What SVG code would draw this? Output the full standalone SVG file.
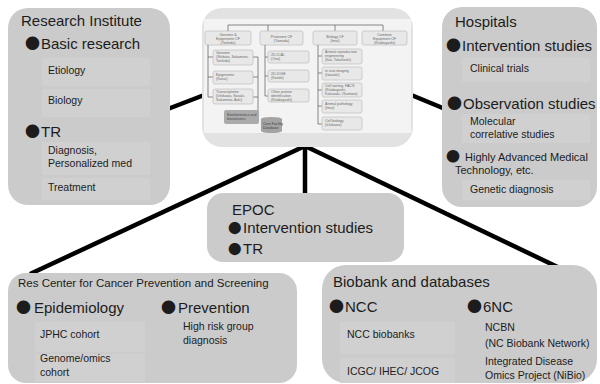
<svg xmlns="http://www.w3.org/2000/svg" width="600" height="384" viewBox="0 0 600 384">
<style>
.big{fill:#cbcbcb}
.sub{fill:#d0d0d0}
.t{font-family:"Liberation Sans",Arial,sans-serif;fill:#1c1c1c}
.h{font-size:15px}
.s{font-size:10.5px}
.b{font-family:"Noto Sans CJK JP","Noto Sans CJK SC",sans-serif}
.conn{stroke:#000;stroke-width:4.5;fill:none;stroke-linecap:butt}
.cf{fill:#e8e8e8;stroke:#b5b5b5;stroke-width:0.6}
.ct{font-family:"Liberation Sans",Arial,sans-serif;font-size:3.6px;fill:#6a6a6a}
.cl{stroke:#6a6a6a;stroke-width:0.8;fill:none}
</style>
<rect width="600" height="384" fill="#fff"/>
<g id="connectors">
<line class="conn" x1="160" y1="112" x2="212" y2="92"/>
<line class="conn" x1="404" y1="92" x2="450" y2="111"/>
<line class="conn" x1="305" y1="140" x2="305" y2="196"/>
<line class="conn" x1="305" y1="146" x2="30" y2="274"/>
<line class="conn" x1="305" y1="146" x2="568" y2="272"/>
</g>
<g id="core-facility">
<rect x="202" y="8" width="211" height="139" rx="20" fill="#e2e2e2"/>
<rect x="204" y="19" width="207" height="114" fill="#f3f3f3"/>
<path class="cl" d="M228 31V25H383V31M268 25V31M335 25V31"/>
<rect class="cf" x="205" y="31" width="46" height="14" rx="2"/>
<text class="ct" text-anchor="middle"><tspan x="228" y="35.5">Genome &amp;</tspan><tspan x="228" y="39.5">Epigenome CF</tspan><tspan x="228" y="43.5">(Yoshida)</tspan></text>
<rect class="cf" x="260" y="31" width="43" height="14" rx="2"/>
<text class="ct" text-anchor="middle"><tspan x="281.5" y="37.5">Proteome CF</tspan><tspan x="281.5" y="41.5">(Yamada)</tspan></text>
<rect class="cf" x="313" y="31" width="44" height="14" rx="2"/>
<text class="ct" text-anchor="middle"><tspan x="335" y="37.5">Biology CF</tspan><tspan x="335" y="41.5">(Imai)</tspan></text>
<rect class="cf" x="362" y="31" width="45" height="14" rx="2"/>
<text class="ct" text-anchor="middle"><tspan x="384.5" y="35.5">Common</tspan><tspan x="384.5" y="39.5">Equipment CF</tspan><tspan x="384.5" y="43.5">(Kitabayashi)</tspan></text>
<path class="cl" d="M208 45V97H213M208 57H213M208 77H213M253 57H258M253 77H258M253 97H258M258 57V112"/>
<rect class="cf" x="213" y="50" width="40" height="15" rx="2"/>
<text class="ct"><tspan x="216" y="54">Genome</tspan><tspan x="216" y="58">(Shibata, Sakamoto,</tspan><tspan x="216" y="62">Yoshida)</tspan></text>
<rect class="cf" x="213" y="71" width="40" height="13" rx="2"/>
<text class="ct"><tspan x="216" y="76">Epigenome</tspan><tspan x="216" y="80">(Kanai)</tspan></text>
<rect class="cf" x="213" y="89" width="40" height="15" rx="2"/>
<text class="ct"><tspan x="216" y="93">Transcriptome</tspan><tspan x="216" y="97">(Ichikawa, Sasaki,</tspan><tspan x="216" y="101">Sakamoto, Aoki)</tspan></text>
<rect x="224" y="110" width="35" height="14" rx="2" fill="#ababab"/>
<text class="ct" style="fill:#4a4a4a"><tspan x="227" y="116">Bioinformatics and</tspan><tspan x="227" y="120">biostatistics</tspan></text>
<path d="M261 119A10.5 2 0 0 1 282 119V131A10.5 2 0 0 1 261 131Z" fill="#a3a3a3"/>
<text class="ct" style="fill:#3f3f3f"><tspan x="263" y="124.5">Core Facility</tspan><tspan x="263" y="128.5">Database</tspan></text>
<path class="cl" d="M265 45V96H268M265 57H268M265 76H268"/>
<rect class="cf" x="268" y="51" width="41" height="12" rx="2"/>
<text class="ct"><tspan x="271" y="56">2D-ICAL</tspan><tspan x="271" y="60">(Ono)</tspan></text>
<rect class="cf" x="268" y="70" width="41" height="12" rx="2"/>
<text class="ct"><tspan x="271" y="75">2D-DIGE</tspan><tspan x="271" y="79">(Kondo)</tspan></text>
<rect class="cf" x="268" y="89" width="41" height="13" rx="2"/>
<text class="ct"><tspan x="271" y="93">Other protein</tspan><tspan x="271" y="97">identification</tspan><tspan x="271" y="101">(Kitabayashi)</tspan></text>
<path class="cl" d="M318 45V124H322M318 56H322M318 73H322M318 90H322M318 106H322"/>
<rect class="cf" x="322" y="49" width="40" height="15" rx="2"/>
<text class="ct"><tspan x="325" y="53">Animal reproduction</tspan><tspan x="325" y="57">engineering</tspan><tspan x="325" y="61">(Ikai, Takahashi)</tspan></text>
<rect class="cf" x="322" y="67" width="40" height="13" rx="2"/>
<text class="ct"><tspan x="325" y="72">in vivo imaging</tspan><tspan x="325" y="76">(Iwasaki)</tspan></text>
<rect class="cf" x="322" y="83" width="40" height="14" rx="2"/>
<text class="ct"><tspan x="325" y="87">Cell sorting, FACS</tspan><tspan x="325" y="91">(Kitabayashi,</tspan><tspan x="325" y="95">Kakasaki, Okamoto)</tspan></text>
<rect class="cf" x="322" y="100" width="40" height="13" rx="2"/>
<text class="ct"><tspan x="325" y="105">Animal pathology</tspan><tspan x="325" y="109">(Imai)</tspan></text>
<rect class="cf" x="322" y="117" width="40" height="13" rx="2"/>
<text class="ct"><tspan x="325" y="122">Cell biology</tspan><tspan x="325" y="126">(Ichikawa)</tspan></text>
</g>
<g id="research-institute">
<rect class="big" x="8" y="8" width="162" height="197" rx="20"/>
<rect class="sub" x="42" y="58" width="108" height="28"/>
<rect class="sub" x="42" y="89" width="108" height="28"/>
<rect class="sub" x="42" y="142" width="108" height="33"/>
<rect class="sub" x="42" y="178" width="108" height="22"/>
<text class="t h" x="21" y="26">Research Institute</text>
<text class="t h" y="49"><tspan class="b" x="25">●</tspan><tspan x="41">Basic research</tspan></text>
<text class="t s" x="48" y="74">Etiology</text>
<text class="t s" x="48" y="104">Biology</text>
<text class="t h" y="137"><tspan class="b" x="25">●</tspan><tspan x="41">TR</tspan></text>
<text class="t s"><tspan x="48" y="154">Diagnosis,</tspan><tspan x="48" y="167">Personalized med</tspan></text>
<text class="t s" x="48" y="191">Treatment</text>
</g>
<g id="hospitals">
<rect class="big" x="442" y="7" width="155" height="200" rx="20"/>
<rect class="sub" x="462" y="58" width="128" height="24"/>
<rect class="sub" x="462" y="114" width="128" height="29"/>
<rect class="sub" x="462" y="180" width="128" height="20"/>
<text class="t h" x="455" y="27">Hospitals</text>
<text class="t h" y="51"><tspan class="b" x="446">●</tspan><tspan x="462">Intervention studies</tspan></text>
<text class="t s" x="470" y="72">Clinical trials</text>
<text class="t h" y="109"><tspan class="b" x="447">●</tspan><tspan x="463">Observation studies</tspan></text>
<text class="t s"><tspan x="470" y="125">Molecular</tspan><tspan x="470" y="138">correlative studies</tspan></text>
<text class="t" style="font-size:11px" y="161"><tspan class="b" x="446" style="font-size:14px">●</tspan><tspan x="465">Highly Advanced Medical</tspan><tspan x="455" y="174">Technology, etc.</tspan></text>
<text class="t s" x="470" y="193">Genetic diagnosis</text>
</g>
<g id="epoc">
<rect class="big" x="207" y="193" width="197" height="69" rx="16"/>
<text class="t h" x="232" y="215">EPOC</text>
<text class="t h" y="233"><tspan class="b" x="228" style="font-size:13.5px">●</tspan><tspan x="243">Intervention studies</tspan></text>
<text class="t h" y="254"><tspan class="b" x="228" style="font-size:13.5px">●</tspan><tspan x="243">TR</tspan></text>
</g>
<g id="res-center">
<rect class="big" x="8" y="273" width="289" height="110" rx="18"/>
<rect class="sub" x="35" y="322" width="110" height="30"/>
<rect class="sub" x="35" y="354" width="110" height="28"/>
<text class="t" style="font-size:11.5px" x="18" y="287">Res Center for Cancer Prevention and Screening</text>
<text class="t h" y="313"><tspan class="b" x="16">●</tspan><tspan x="34">Epidemiology</tspan></text>
<text class="t h" y="313"><tspan class="b" x="161">●</tspan><tspan x="178">Prevention</tspan></text>
<text class="t s" x="40" y="338">JPHC cohort</text>
<text class="t s"><tspan x="40" y="362">Genome/omics</tspan><tspan x="40" y="376">cohort</tspan></text>
<text class="t s"><tspan x="183" y="330">High risk group</tspan><tspan x="183" y="344">diagnosis</tspan></text>
</g>
<g id="biobank">
<rect class="big" x="322" y="265" width="275" height="118" rx="24"/>
<rect class="sub" x="340" y="322" width="115" height="32"/>
<rect class="sub" x="340" y="358" width="115" height="25"/>
<text class="t h" x="333" y="287">Biobank and databases</text>
<text class="t h" y="312"><tspan class="b" x="329">●</tspan><tspan x="345">NCC</tspan></text>
<text class="t h" y="312"><tspan class="b" x="467">●</tspan><tspan x="483">6NC</tspan></text>
<text class="t s" x="347" y="338">NCC biobanks</text>
<text class="t s" x="347" y="375">ICGC/ IHEC/ JCOG</text>
<text class="t s"><tspan x="485" y="331">NCBN</tspan><tspan x="485" y="347">(NC Biobank Network)</tspan></text>
<text class="t s"><tspan x="485" y="365">Integrated Disease</tspan><tspan x="485" y="379">Omics Project (NiBio)</tspan></text>
</g>
</svg>
